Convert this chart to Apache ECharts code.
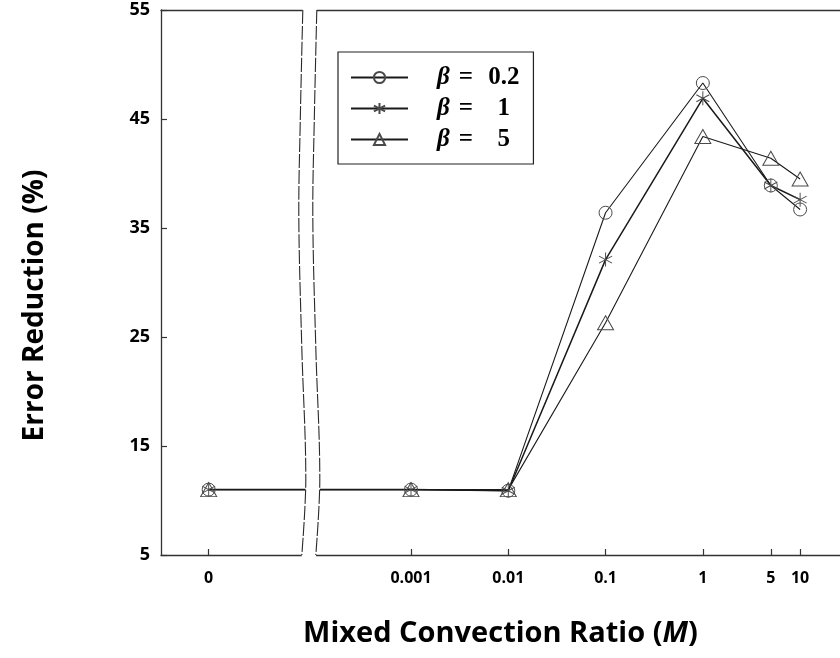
<!DOCTYPE html>
<html>
<head>
<meta charset="utf-8">
<script src="https://cdn.jsdelivr.net/npm/echarts@6/dist/echarts.min.js"></script>
<style>
  html, body { margin: 0; padding: 0; background: #ffffff; }
  #chart { width: 840px; height: 658px; }
</style>
</head>
<body>
<div id="chart"></div>
<script>
// Mixed convection ratio M and the tick labels shown under it
const ratioM = [0, 0.001, 0.01, 0.1, 1, 5, 10];
const tickLabels = ['0', '0.001', '0.01', '0.1', '1', '5', '10'];

// Error reduction (%) for each beta
const betaNames = ['0.2', '1', '5'];
const beta02 = [11.0, 11.0, 10.9, 36.4, 48.3, 38.9, 36.7];
const beta1  = [11.0, 11.0, 10.9, 32.1, 46.9, 38.9, 37.6];
const beta5  = [11.0, 11.0, 11.0, 26.3, 43.4, 41.4, 39.5];

const yTicks = [5, 15, 25, 35, 45, 55];

// Horizontal placement is log10(M); M = 0 is parked left of an axis break.
const ZERO_POS = -5.08;
const BREAK_POS = -4.03;
const X_MIN = -5.57, X_MAX = 1.41;
const toPos = m => (m === 0 ? ZERO_POS : Math.log10(m));
const tickPos = ratioM.map(toPos);
const labelAt = v => {
  const i = tickPos.findIndex(p => Math.abs(p - v) < 1e-6);
  return i < 0 ? '' : tickLabels[i];
};

const FONT = '"Open Sans", Lato, sans-serif';
const MATH = '"Liberation Serif", "DejaVu Serif", serif';
const ASTERISK = 'path://M10 0L10 20M1.34 5L18.66 15M1.34 15L18.66 5';

function makeSeries(name, values, symbol, size, lineWidth) {
  return {
    name: name,
    type: 'line',
    data: ratioM.map((m, i) => [toPos(m), values[i]]),
    symbol: symbol,
    symbolSize: size,
    showAllSymbol: true,
    lineStyle: { color: '#1a1a1a', width: lineWidth },
    itemStyle: { color: 'rgba(255,255,255,0)', borderColor: '#4a4a4a', borderWidth: 1 },
    emphasis: { disabled: true },
    z: 3
  };
}

const chart = echarts.init(document.getElementById('chart'));

const axisLineStyle = { color: '#333', width: 1.3 };

const option = {
  animation: false,
  backgroundColor: '#ffffff',
  grid: { left: 161, top: 10, right: 0, bottom: 103, containLabel: false },
  legend: {
    orient: 'vertical',
    left: 338,
    top: 52,
    padding: [13, 14, 12, 12],
    itemGap: 6,
    itemWidth: 57,
    itemHeight: 14,
    borderColor: '#222',
    borderWidth: 1.2,
    backgroundColor: '#fff',
    data: betaNames,
    formatter: n => '{b|β}{e|=}{v|' + n + '}',
    textStyle: {
      rich: {
        b: { fontFamily: MATH, fontStyle: 'italic', fontWeight: 'bold', fontSize: 25, padding: [0, 0, 0, 24], color: '#000' },
        e: { fontFamily: MATH, fontWeight: 'bold', fontSize: 25, width: 32, align: 'center', color: '#000' },
        v: { fontFamily: MATH, fontWeight: 'bold', fontSize: 25, width: 44, align: 'center', color: '#000' }
      }
    }
  },
  xAxis: [
    {
      type: 'value',
      min: X_MIN,
      max: X_MAX,
      name: '{n|Mixed Convection Ratio (}{i|M}{n|)}',
      nameLocation: 'middle',
      nameGap: 64,
      nameTextStyle: {
        rich: {
          n: { fontFamily: FONT, fontWeight: 'bold', fontSize: 29, color: '#000' },
          i: { fontFamily: FONT, fontWeight: 'bold', fontStyle: 'italic', fontSize: 29, color: '#000' }
        }
      },
      axisLine: { show: true, onZero: false, lineStyle: axisLineStyle },
      axisTick: { show: true, inside: true, length: 6, customValues: tickPos, lineStyle: { color: '#333', width: 1.2 } },
      axisLabel: {
        customValues: tickPos,
        formatter: v => labelAt(v),
        fontFamily: FONT, fontWeight: 'bold', fontSize: 16, color: '#000', margin: 15
      },
      splitLine: { show: false }
    },
    {
      type: 'value',
      position: 'top',
      min: X_MIN,
      max: X_MAX,
      axisLine: { show: true, onZero: false, lineStyle: axisLineStyle },
      axisTick: { show: false },
      axisLabel: { show: false },
      splitLine: { show: false }
    }
  ],
  yAxis: {
    type: 'value',
    min: yTicks[0],
    max: yTicks[yTicks.length - 1],
    interval: 10,
    name: 'Error Reduction (%)',
    nameLocation: 'middle',
    nameGap: 112,
    nameTextStyle: { fontFamily: FONT, fontWeight: 'bold', fontSize: 28, color: '#000', padding: [0, 46, 0, 0] },
    axisLine: { show: true, onZero: false, lineStyle: axisLineStyle },
    axisTick: { show: true, inside: true, length: 6, lineStyle: { color: '#333', width: 1.2 } },
    axisLabel: { fontFamily: FONT, fontWeight: 'bold', fontSize: 18, color: '#000', margin: 11 },
    splitLine: { show: false }
  },
  series: [
    makeSeries(betaNames[0], beta02, 'circle', 13, 1.1),
    makeSeries(betaNames[1], beta1, ASTERISK, [13, 14], 1.5),
    makeSeries(betaNames[2], beta5, 'triangle', [16, 14], 1.1)
  ]
};

chart.setOption(option);

// Axis break between M = 0 and M = 0.001: a white S-shaped band with outlined edges
function drawBreak() {
  const cx = chart.convertToPixel({ xAxisIndex: 0 }, BREAK_POS);
  const top = chart.convertToPixel({ yAxisIndex: 0 }, yTicks[yTicks.length - 1]);
  const bottom = chart.convertToPixel({ yAxisIndex: 0 }, yTicks[0]);
  const h = bottom - top;
  const shape = [[0, -8], [0.2, -10.5], [0.38, -12], [0.62, -9], [0.86, -5], [1, -9]];
  const gap = 14;
  const left = shape.map(([t, dx]) => [cx + dx, top + t * h]);
  const right = shape.map(([t, dx]) => [cx + dx + gap, top + t * h]);
  const bandL = left.map(p => p.slice());
  const bandR = right.map(p => p.slice());
  bandL[0][1] -= 2; bandR[0][1] -= 2;
  bandL[bandL.length - 1][1] += 2; bandR[bandR.length - 1][1] += 2;
  chart.setOption({
    graphic: [
      { type: 'polygon', z: 50, shape: { points: bandL.concat(bandR.slice().reverse()), smooth: 0.35 },
        style: { fill: '#fff', stroke: null } },
      { type: 'polyline', z: 51, shape: { points: left, smooth: 0.35 },
        style: { stroke: '#2a2a2a', lineWidth: 1.1, fill: null, lineDash: [14, 2] } },
      { type: 'polyline', z: 51, shape: { points: right, smooth: 0.35 },
        style: { stroke: '#2a2a2a', lineWidth: 1.1, fill: null, lineDash: [14, 2] } }
    ]
  });
}
drawBreak();
</script>
</body>
</html>
